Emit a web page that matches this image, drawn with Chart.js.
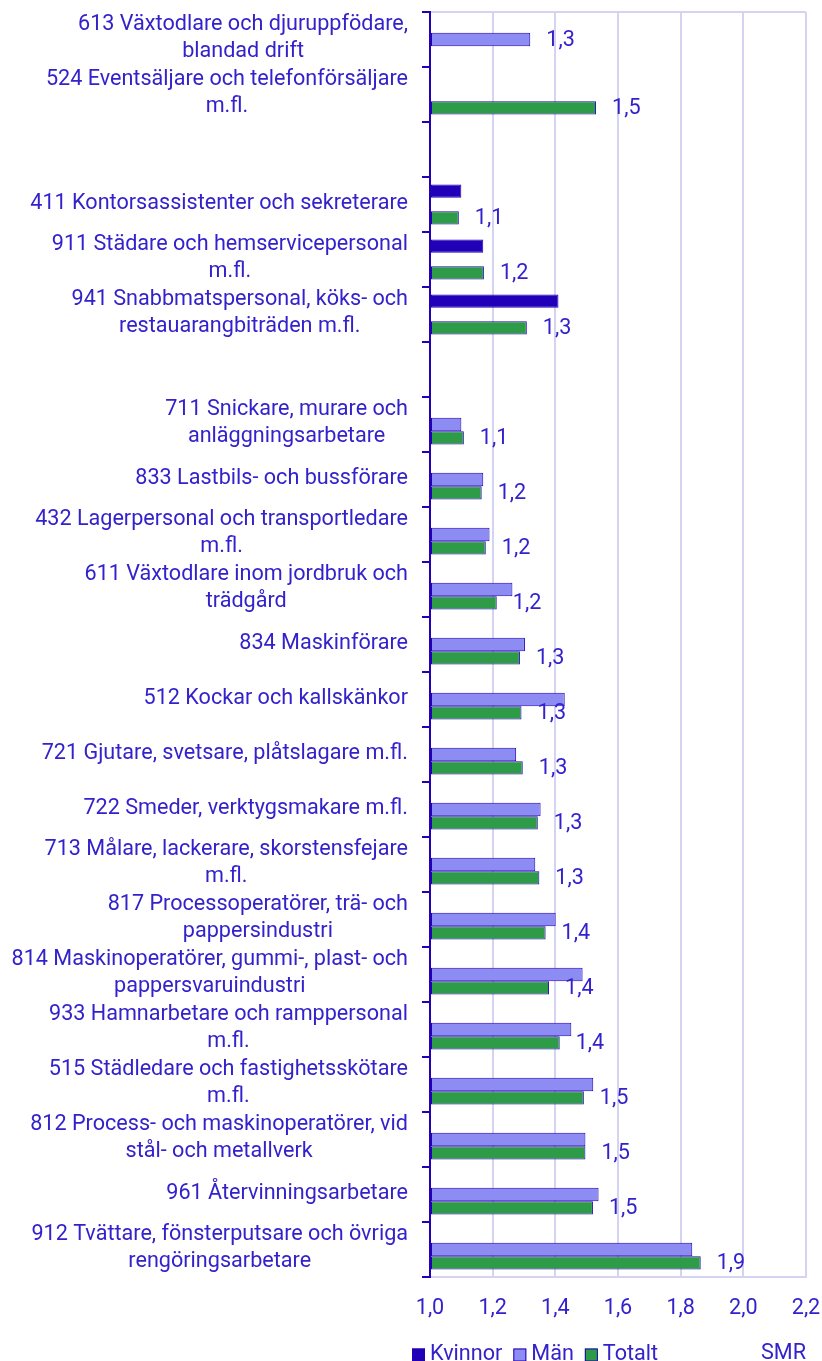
<!DOCTYPE html>
<html>
<head>
<meta charset="utf-8">
<script src="https://cdn.jsdelivr.net/npm/chart.js@4/dist/chart.umd.min.js"></script>
<style>
  html, body { margin: 0; padding: 0; background: #fff; overflow: hidden; }
  #wrap { position: relative; width: 822px; height: 1372px; }
</style>
</head>
<body>
<div id="wrap"><canvas id="smrChart"></canvas></div>
<script>
const categories = [
  ['613 Växtodlare och djuruppfödare,', 'blandad drift'],
  ['524 Eventsäljare och telefonförsäljare', 'm.fl.'],
  '',
  ['411 Kontorsassistenter och sekreterare'],
  ['911 Städare och hemservicepersonal', 'm.fl.'],
  ['941 Snabbmatspersonal, köks- och', 'restauarangbiträden m.fl.'],
  ' ',
  ['711 Snickare, murare och', 'anläggningsarbetare'],
  ['833 Lastbils- och bussförare'],
  ['432 Lagerpersonal och transportledare', 'm.fl.'],
  ['611 Växtodlare inom jordbruk och', 'trädgård'],
  ['834 Maskinförare'],
  ['512 Kockar och kallskänkor'],
  ['721 Gjutare, svetsare, plåtslagare m.fl.'],
  ['722 Smeder, verktygsmakare m.fl.'],
  ['713 Målare, lackerare, skorstensfejare', 'm.fl.'],
  ['817 Processoperatörer, trä- och', 'pappersindustri'],
  ['814 Maskinoperatörer, gummi-, plast- och', 'pappersvaruindustri'],
  ['933 Hamnarbetare och ramppersonal', 'm.fl.'],
  ['515 Städledare och fastighetsskötare', 'm.fl.'],
  ['812 Process- och maskinoperatörer, vid', 'stål- och metallverk'],
  ['961 Återvinningsarbetare'],
  ['912 Tvättare, fönsterputsare och övriga', 'rengöringsarbetare']
];

const kvinnor = [null, null, null, 1.10, 1.17, 1.41, null,
  null, null, null, null, null, null, null, null, null, null, null, null, null, null, null, null];
const man = [1.32, null, null, null, null, null, null,
  1.10, 1.17, 1.19, 1.263, 1.303, 1.43, 1.275, 1.353, 1.336, 1.401, 1.487, 1.451, 1.521, 1.496, 1.538, 1.837];
const totalt = [null, 1.53, null, 1.092, 1.172, 1.309, null,
  1.108, 1.165, 1.178, 1.213, 1.287, 1.292, 1.296, 1.344, 1.349, 1.369, 1.38, 1.414, 1.491, 1.496, 1.52, 1.864];

const xTicks = [1.0, 1.2, 1.4, 1.6, 1.8, 2.0, 2.2];

const TEXT = '#3322cc';
const AXIS = '#2200b8';
const GRID = '#d4d4f2';
const FONT = 'Roboto, "Noto Sans", sans-serif';
const FONT_SIZE = 21.6;
const LINE_H = 27;

const fmt = (v) => v.toFixed(1).replace('.', ',');

// category labels: block right-aligned against the axis, lines centred inside the block
const yLabels = {
  id: 'yLabels',
  afterDraw(chart) {
    const { ctx } = chart;
    const yScale = chart.scales.y;
    const right = yScale.right - 22;
    ctx.save();
    ctx.font = `${FONT_SIZE}px ${FONT}`;
    ctx.fillStyle = TEXT;
    ctx.textAlign = 'center';
    ctx.textBaseline = 'middle';
    chart.data.labels.forEach((label, i) => {
      const lines = [].concat(label);
      if (!lines[0].trim()) return;
      const w = Math.max(...lines.map((l) => ctx.measureText(l).width));
      const cx = right - w / 2;
      const y0 = yScale.getPixelForTick(i) - 1 - (lines.length - 1) * LINE_H / 2;
      lines.forEach((l, k) => ctx.fillText(l, cx, y0 + k * LINE_H));
    });
    ctx.restore();
  }
};

// value label after the last bar of each category
const valueLabels = {
  id: 'valueLabels',
  afterDatasetsDraw(chart) {
    const { ctx } = chart;
    ctx.save();
    ctx.font = `${FONT_SIZE}px ${FONT}`;
    ctx.fillStyle = TEXT;
    ctx.textAlign = 'left';
    ctx.textBaseline = 'middle';
    chart.data.labels.forEach((_, i) => {
      for (let d = chart.data.datasets.length - 1; d >= 0; d--) {
        const v = chart.data.datasets[d].data[i];
        if (v == null) continue;
        const bar = chart.getDatasetMeta(d).data[i];
        ctx.fillText(fmt(v), bar.x + 16, bar.y + 1);
        break;
      }
    });
    ctx.restore();
  }
};

const legendRow = {
  id: 'legendRow',
  afterDraw(chart) {
    const { ctx } = chart;
    let x = chart.chartArea.left - 18;
    const y = 1355;
    ctx.save();
    ctx.font = `${FONT_SIZE}px ${FONT}`;
    ctx.textBaseline = 'middle';
    ctx.textAlign = 'left';
    chart.data.datasets.forEach((ds) => {
      ctx.fillStyle = ds.backgroundColor;
      ctx.fillRect(x, y - 6.5, 13, 13);
      ctx.strokeStyle = ds.borderColor;
      ctx.lineWidth = 1;
      ctx.strokeRect(x + 0.5, y - 6, 12, 12);
      ctx.fillStyle = TEXT;
      ctx.fillText(ds.label, x + 18, y);
      x += 18 + ctx.measureText(ds.label).width + 11;
    });
    ctx.restore();
  }
};

const barStyle = {
  base: 1,
  borderColor: AXIS,
  borderWidth: 1,
  borderSkipped: false,
  categoryPercentage: 0.727,
  barPercentage: 1
};

new Chart(document.querySelector('#smrChart'), {
  type: 'bar',
  data: {
    labels: categories,
    datasets: [
      { label: 'Kvinnor', data: kvinnor, backgroundColor: '#2200b8', ...barStyle },
      { label: 'Män', data: man, backgroundColor: '#8c8cf2', ...barStyle },
      { label: 'Totalt', data: totalt, backgroundColor: '#2e9b48', ...barStyle }
    ]
  },
  options: {
    indexAxis: 'y',
    responsive: true,
    maintainAspectRatio: false,
    animation: false,
    layout: { padding: { top: 12, right: 16, left: 0, bottom: 0 } },
    plugins: {
      legend: { display: false },
      tooltip: { enabled: false }
    },
    scales: {
      x: {
        min: xTicks[0],
        max: xTicks[xTicks.length - 1],
        afterBuildTicks: (scale) => { scale.ticks = xTicks.map((value) => ({ value })); },
        grid: { color: GRID, lineWidth: 2, drawTicks: true, tickLength: 18, tickColor: 'transparent' },
        border: { color: GRID, width: 2 },
        ticks: {
          color: TEXT,
          font: { family: FONT, size: FONT_SIZE },
          padding: 1,
          callback: (v) => fmt(v)
        },
        title: {
          display: true,
          text: 'SMR',
          align: 'end',
          color: TEXT,
          font: { family: FONT, size: FONT_SIZE },
          padding: { top: 0, bottom: 5 }
        },
        afterFit: (scale) => { scale.height = 95; }
      },
      y: {
        grid: {
          color: (c) => (c.index === 0 || c.index === undefined) ? GRID : 'transparent',
          lineWidth: 2,
          tickColor: AXIS,
          tickWidth: 2,
          tickLength: 8
        },
        border: { color: AXIS, width: 2, z: 1 },
        ticks: { display: false },
        afterFit: (scale) => { scale.width = 430; }
      }
    }
  },
  plugins: [yLabels, valueLabels, legendRow]
});
</script>
</body>
</html>
